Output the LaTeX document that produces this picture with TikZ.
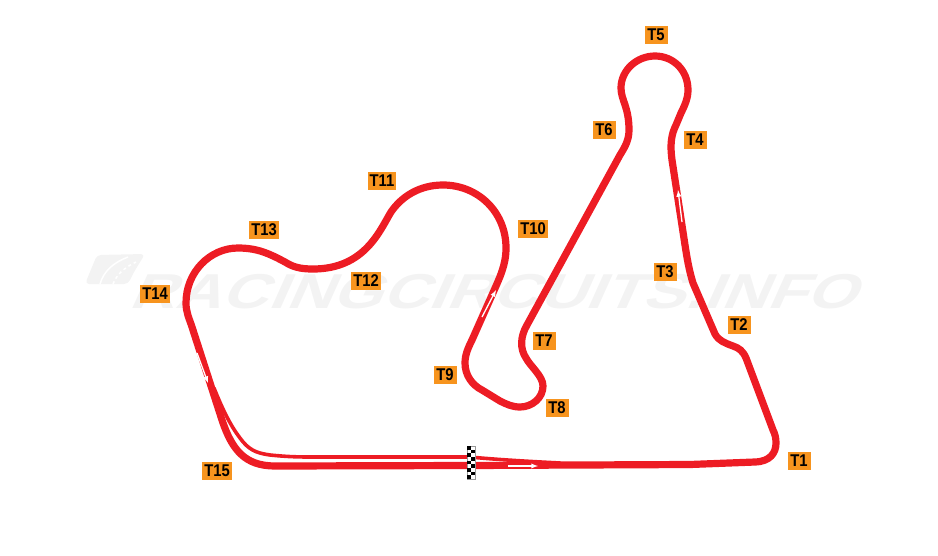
\documentclass[tikz,border=0pt]{standalone}
\usepackage{fontspec}
\setmainfont{Liberation Sans}
\newfontfamily\turnfont[FakeStretch=0.87]{Liberation Sans}
\newfontfamily\markfont[FakeStretch=1.31,FakeSlant=0.45]{Liberation Sans}
\definecolor{trackred}{HTML}{ED1C24}
\definecolor{turnorange}{HTML}{F7941E}
\definecolor{markgrey}{HTML}{F3F3F3}
\tikzset{
  turnlabel/.style={fill=turnorange, text=black, inner xsep=2pt, inner ysep=0pt, minimum width=23pt, minimum height=18.5pt, font=\fontsize{17}{17}\turnfont\bfseries},
  trackline/.style={draw=trackred, line width=7.2pt, line join=round},
  pitline/.style={draw=trackred, line width=3.6pt, line cap=round, line join=round},
  dirarrow/.style={draw=white, line width=1.3pt, >=latex, ->},
}
\begin{document}
\begin{tikzpicture}[x=1pt,y=-1pt]
\useasboundingbox (0,0) rectangle (938,555);

% watermark
\fill [markgrey, rounded corners=4pt] (85,284) -- (97,255) -- (145,254) -- (134,272) -- (128,284) -- cycle;
\draw [white, line width=1.5pt] (100,284) .. controls (104,270) and (115,262) .. (128,257);
\draw [white, line width=1.5pt, dashed] (113,284) .. controls (117,274) and (124,268) .. (136,262);
\node [text=markgrey, font=\fontsize{49}{49}\markfont\bfseries, inner sep=0pt, anchor=base west] (mark) at (128,308) {RACINGCIRCUITS.INFO};

% pit lane
\draw [pitline] (214,388) .. controls (222,408) and (230,425) .. (240,438) .. controls (248,449) and (255,453) .. (270,455) .. controls (285,456.5) and (295,457) .. (310,457) -- (470,457) .. controls (490,459) and (520,461) .. (560,463);

% main circuit
\draw [trackline] (275,466) -- (470,465.5) -- (690,464.5) -- (755,462)
  .. controls (770,461.5) and (776,453) .. (776,443)
  .. controls (776,438) and (775,434) .. (773,430) -- (746,358)
  .. controls (743,351) and (739,348) .. (733,346)
  .. controls (725,343) and (719,341) .. (715,334) -- (693,283)
  .. controls (689,270) and (687,258) .. (685,245) -- (672,160)
  .. controls (670,145) and (671,135) .. (676,125) -- (681,113)
  .. controls (685,105) and (688,98) .. (688,90)
  .. controls (688,70) and (673,56) .. (655,56)
  .. controls (637,56) and (621,70) .. (621,88)
  .. controls (621,100) and (629,107) .. (629,130)
  .. controls (629,140) and (625,147) .. (620,155) -- (527,325)
  .. controls (520,337) and (520,349) .. (526,358)
  .. controls (530,366) and (543,376) .. (543,386)
  .. controls (543,398) and (532,407) .. (520,407)
  .. controls (512,407) and (506,404) .. (500,401) -- (482,390)
  .. controls (472,385) and (465,375) .. (465,363)
  .. controls (465,355) and (468,348) .. (472,340) -- (492,295)
  .. controls (500,277) and (506,265) .. (506,248)
  .. controls (506,212) and (478,185) .. (443,185)
  .. controls (420,185) and (402,196) .. (391,212)
  .. controls (380,230) and (365,269) .. (313,269)
  .. controls (300,269) and (293,267) .. (285,262)
  .. controls (270,254) and (258,248) .. (238,248)
  .. controls (210,248) and (186,272) .. (186,303)
  .. controls (186,312) and (189,318) .. (192,327) -- (222,420)
  .. controls (232,450) and (245,466) .. (275,466) -- cycle;

% direction arrows
\draw [dirarrow] (508,466) -- (538,466);
\draw [dirarrow] (197,353) -- (208,383);
\draw [dirarrow] (682,222) -- (678,190);
\draw [dirarrow] (482,317) -- (496,290);

% start and finish
\fill [white, draw=black!40, line width=0.4pt] (467,446) rectangle (475,479);
\foreach \row in {0,...,8}{
  \pgfmathsetmacro{\rowtop}{446+3.67*\row}
  \pgfmathsetmacro{\rowcol}{mod(\row,2)==0 ? 467 : 471}
  \fill [black] (\rowcol,\rowtop) rectangle ++(4,3.67);
}

% turn labels
\node [turnlabel] (t1) at (799,461) {T1};
\node [turnlabel] (t2) at (739,325) {T2};
\node [turnlabel] (t3) at (665,272) {T3};
\node [turnlabel] (t4) at (695,140) {T4};
\node [turnlabel] (t5) at (656,35) {T5};
\node [turnlabel] (t6) at (604,130) {T6};
\node [turnlabel] (t7) at (544,341) {T7};
\node [turnlabel] (t8) at (557,408) {T8};
\node [turnlabel] (t9) at (445,375) {T9};
\node [turnlabel] (t10) at (533,229) {T10};
\node [turnlabel] (t11) at (382,181) {T11};
\node [turnlabel] (t12) at (366,281) {T12};
\node [turnlabel] (t13) at (264,230) {T13};
\node [turnlabel] (t14) at (155,294) {T14};
\node [turnlabel] (t15) at (217,471) {T15};

\end{tikzpicture}
\end{document}
